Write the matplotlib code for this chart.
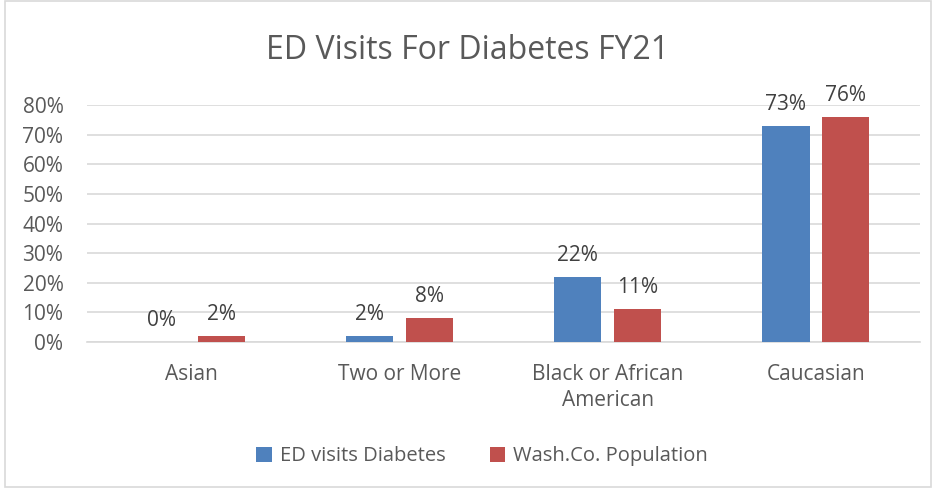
import numpy as np
import matplotlib.pyplot as plt
from matplotlib.patches import Rectangle

plt.rcParams['font.family'] = ['Open Sans', 'DejaVu Sans']

# data
categories = ['Asian', 'Two or More', 'Black or African\nAmerican', 'Caucasian']
ed_visits = [0.00, 0.02, 0.22, 0.73]
wash_pop = [0.02, 0.08, 0.11, 0.76]
series_names = ['ED visits Diabetes', 'Wash.Co. Population']
yticks = np.arange(0, 0.81, 0.1)

blue = '#4F81BD'
red = '#C0504D'
txt = '#595959'

fig = plt.figure(figsize=(9.36, 4.88), dpi=100)
ax = fig.add_axes([0.093, 0.299, 0.890, 0.486])

x = np.arange(len(categories))
w = 0.226
off = 0.144
b1 = ax.bar(x - off, ed_visits, w, color=blue, label=series_names[0], zorder=3)
b2 = ax.bar(x + off, wash_pop, w, color=red, label=series_names[1], zorder=3)

for bars, vals in [(b1, ed_visits), (b2, wash_pop)]:
    for r, v in zip(bars, vals):
        ax.annotate(f'{v*100:.0f}%', (r.get_x() + r.get_width()/2, v),
                    xytext=(0, 8), textcoords='offset points',
                    ha='center', va='bottom', fontsize=15, color='#404040')

ax.set_xlim(-0.5, len(categories) - 0.5)
ax.set_ylim(0, 0.8)
ax.set_yticks(yticks)
ax.set_yticklabels([f'{t*100:.0f}%' for t in yticks])
ax.set_xticks(x)
ax.set_xticklabels(categories, linespacing=1.3)
ax.tick_params(axis='both', length=0, labelsize=15, labelcolor=txt)
ax.tick_params(axis='x', pad=16)
ax.tick_params(axis='y', pad=17)
ax.grid(axis='y', color='#D9D9D9', linewidth=1.2, zorder=0)
for s in ['top', 'right', 'left']:
    ax.spines[s].set_visible(False)
ax.spines['bottom'].set_color('#D9D9D9')
ax.spines['bottom'].set_linewidth(1.2)

fig.suptitle('ED Visits For Diabetes FY21', y=0.93, fontsize=23, color=txt)

fig.legend(handles=[b1, b2], loc='center', bbox_to_anchor=(0.515, 0.065), ncol=2,
           frameon=False, fontsize=14.5, labelcolor=txt, handlelength=0.75,
           handleheight=0.75, handletextpad=0.4, columnspacing=2.2)

fig.patches.append(Rectangle((0.005, 0.003), 0.99, 0.994, transform=fig.transFigure,
                             fill=False, edgecolor='#D9D9D9', linewidth=1.2))

fig.savefig('out.png', dpi=100)
